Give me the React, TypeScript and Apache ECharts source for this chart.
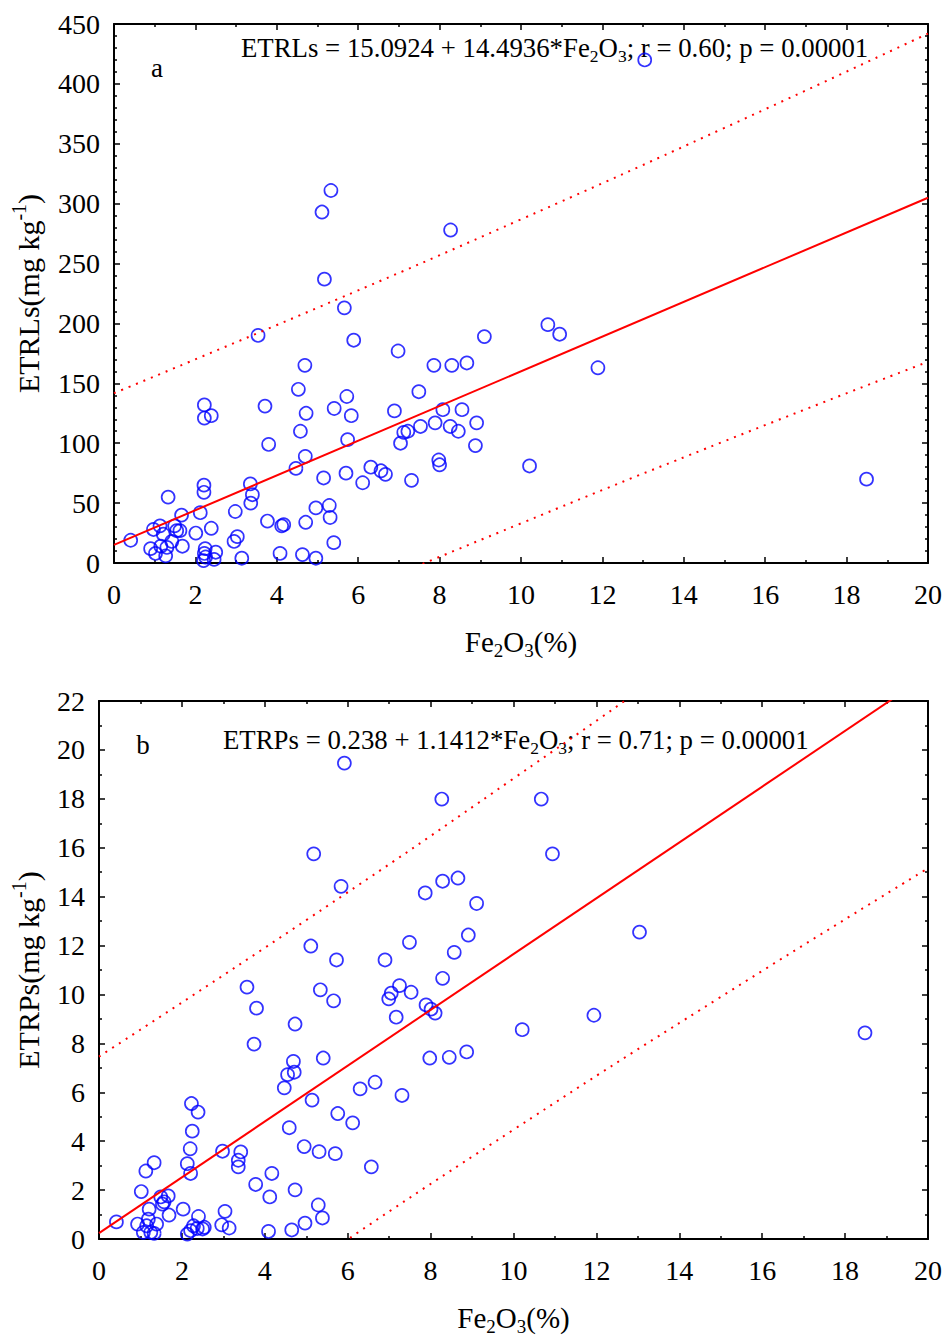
import React, { useEffect, useRef } from 'react';
import * as echarts from 'echarts';

const FONT = '"Liberation Serif", "Times New Roman", serif';

// Panel a: Fe2O3 (%) vs ETRLs (mg/kg)
const feA = [0.41, 1.33, 0.97, 1.13, 1.21, 0.90, 1.02, 1.15, 1.27, 1.30, 1.42, 1.49, 1.54, 1.62, 1.66, 1.68, 2.01, 2.12, 2.21, 2.21,
  2.22, 2.22, 2.39, 2.39, 2.24, 2.22, 2.25, 2.50, 2.46, 2.20, 2.95, 3.03, 2.98, 3.14, 3.35, 3.40, 3.36, 3.54, 3.77, 3.80,
  3.71, 4.08, 4.12, 4.17, 4.47, 4.58, 4.53, 4.69, 4.72, 4.70, 4.63, 4.71, 4.96, 4.96, 5.15, 5.29, 5.31, 5.40, 5.66, 5.89,
  5.72, 5.83, 5.74, 5.70, 5.41, 6.11, 6.31, 5.33, 5.11, 5.17, 8.27, 6.98, 7.86, 8.30, 8.67, 9.10, 10.66, 10.95, 7.49, 6.89,
  8.08, 8.55, 7.89, 7.53, 7.22, 7.12, 7.04, 8.26, 8.46, 8.91, 8.88, 7.98, 8.00, 6.56, 6.67, 7.31, 10.21, 11.89, 18.49, 13.04];
const etrlA = [19, 55, 28, 31, 24, 12, 8, 14, 6, 13, 18, 31, 27, 27, 40, 14, 25, 42, 65, 59,
  132, 121, 123, 29, 12, 8, 5, 9, 3, 2, 18, 22, 43, 4, 66, 57, 50, 190, 35, 99,
  131, 8, 31, 32, 79, 110, 145, 165, 125, 89, 7, 34, 4, 46, 71, 48, 38, 17, 213, 186,
  139, 123, 103, 75, 129, 67, 80, 311, 293, 237, 278, 177, 165, 165, 167, 189, 199, 191, 143, 127,
  128, 128, 117, 114, 110, 109, 100, 114, 110, 117, 98, 86, 82, 77, 74, 69, 81, 163, 70, 420];

// Panel b: Fe2O3 (%) vs ETRPs (mg/kg)
const feB = [0.42, 0.93, 1.02, 1.13, 1.33, 1.19, 1.07, 1.25, 1.15, 1.39, 1.21, 1.33, 1.49, 1.67, 1.57, 1.53, 1.69, 2.03, 2.13, 2.21,
  2.20, 2.25, 2.23, 2.39, 2.40, 2.13, 2.21, 2.28, 2.37, 2.50, 2.54, 2.96, 3.04, 3.14, 2.98, 3.36, 3.36, 3.42, 3.74, 3.80,
  3.78, 4.12, 4.17, 4.09, 4.65, 4.47, 4.55, 4.69, 4.71, 4.73, 4.59, 4.73, 4.97, 4.95, 5.14, 5.41, 5.31, 5.29, 5.39, 5.70,
  5.76, 6.12, 6.30, 5.66, 5.92, 8.27, 10.67, 5.18, 10.94, 5.84, 8.29, 8.66, 7.87, 9.11, 5.11, 5.73, 7.49, 6.90, 8.91, 8.57,
  8.29, 7.25, 7.05, 6.99, 7.53, 7.89, 8.01, 8.11, 7.17, 5.34, 3.57, 10.21, 7.98, 8.45, 8.87, 6.66, 7.31, 6.57, 11.94, 13.04, 18.48];
const etrpB = [0.70, 0.61, 1.94, 2.78, 3.12, 0.81, 0.27, 0.27, 0.54, 0.61, 1.22, 0.23, 1.72, 1.76, 1.52, 1.43, 0.98, 1.22, 3.08, 2.68,
  3.69, 4.41, 5.54, 5.19, 0.92, 0.20, 0.34, 0.54, 0.43, 0.41, 0.48, 0.58, 1.13, 0.45, 3.59, 3.22, 2.95, 3.56, 7.97, 9.44,
  2.23, 1.72, 2.68, 0.31, 0.37, 6.18, 6.72, 7.26, 6.82, 8.79, 4.55, 2.01, 0.65, 3.78, 5.68, 7.40, 3.57, 1.39, 0.86, 3.49,
  5.13, 4.75, 6.14, 9.74, 19.46, 17.99, 17.99, 15.75, 15.75, 14.42, 14.63, 14.76, 14.15, 13.72, 11.98, 11.41, 12.13, 11.41, 12.43, 11.72,
  10.66, 10.36, 10.05, 9.82, 10.09, 9.57, 9.40, 9.24, 9.07, 10.19, 10.30, 8.56, 7.40, 7.43, 7.65, 6.41, 5.87, 2.95, 9.15, 12.55, 8.43];

// Regression equations printed on the chart
const fitA = { intercept: 15.0924, slope: 14.4936 };
const fitB = { intercept: 0.238, slope: 1.1412 };
const fitX = [0, 20];

// Prediction bands (dotted lines)
const bandX = [0, 5, 10, 15, 20];
const upperA = [141.8, 213.1, 286.9, 363.3, 442.0];
const lowerA = [-111.6, -37.9, 33.1, 101.7, 168.0];
const upperB = [7.46, 13.04, 18.83, 24.81, 30.96];
const lowerB = [-6.98, -1.16, 4.47, 9.9, 15.16];

const zip = (xs: number[], ys: number[]) => xs.map((x, i) => [x, ys[i]]);

const richX = {
  a: { fontFamily: FONT, fontSize: 29, color: '#000', lineHeight: 36 },
  s: { fontFamily: FONT, fontSize: 19, color: '#000', lineHeight: 19, verticalAlign: 'bottom' },
};
const richY = {
  a: { fontFamily: FONT, fontSize: 30, color: '#000', lineHeight: 38 },
  p: { fontFamily: FONT, fontSize: 20, color: '#000', lineHeight: 20, verticalAlign: 'top' },
};
const richG = {
  a: { fontFamily: FONT, fontSize: 26.8, fill: '#000', lineHeight: 34 },
  s: { fontFamily: FONT, fontSize: 17.5, fill: '#000', lineHeight: 17, verticalAlign: 'bottom' },
};

function xAx(grid: number, pos: 'bottom' | 'top', name?: string) {
  return {
    gridIndex: grid, type: 'value', min: 0, max: 20, interval: 2, position: pos,
    axisLine: { show: true, onZero: false, lineStyle: { color: '#000', width: 2 } },
    axisTick: { show: true, inside: true, length: 6, lineStyle: { color: '#000', width: 1.5 } },
    minorTick: { show: true, splitNumber: 2, length: 3, lineStyle: { color: '#000', width: 1.5 } },
    splitLine: { show: false }, minorSplitLine: { show: false },
    axisLabel: { show: pos === 'bottom', margin: 17, fontSize: 28, fontFamily: FONT, color: '#000' },
    name: name, nameLocation: 'middle', nameGap: 61,
    nameTextStyle: { fontFamily: FONT, fontSize: 29, color: '#000', rich: richX },
  };
}
function yAx(grid: number, pos: 'left' | 'right', max: number, interval: number, minor: number, gap: number, name?: string) {
  return {
    gridIndex: grid, type: 'value', min: 0, max: max, interval: interval, position: pos,
    axisLine: { show: true, onZero: false, lineStyle: { color: '#000', width: 2 } },
    axisTick: { show: true, inside: true, length: 6, lineStyle: { color: '#000', width: 1.5 } },
    minorTick: { show: true, splitNumber: minor, length: 3, lineStyle: { color: '#000', width: 1.5 } },
    splitLine: { show: false }, minorSplitLine: { show: false },
    axisLabel: { show: pos === 'left', margin: 14, fontSize: 28, fontFamily: FONT, color: '#000' },
    name: name, nameLocation: 'middle', nameGap: gap, nameRotate: 90,
    nameTextStyle: { fontFamily: FONT, fontSize: 30, color: '#000', rich: richY },
  };
}

const scatterStyle = { color: 'rgba(0,0,0,0)', borderColor: '#0000ff', borderWidth: 1.7 };

export default function App() {
  const ref = useRef<HTMLDivElement>(null);
  useEffect(() => {
    if (!ref.current) return;
    const chart = echarts.init(ref.current, null, { renderer: 'svg' });
    const fitLine = (f: { intercept: number; slope: number }) => fitX.map((x) => [x, f.intercept + f.slope * x]);
    const dotted = { color: '#ff0000', width: 2, type: [2, 6] as any };
    const option: any = {
      animation: false,
      backgroundColor: '#fff',
      grid: [
        { left: 114, top: 24, width: 814, height: 539 },
        { left: 99, top: 701, width: 829, height: 540 },
      ],
      xAxis: [
        xAx(0, 'bottom', '{a|Fe}{s|2}{a|O}{s|3}{a|(%)}'),
        xAx(0, 'top'),
        xAx(1, 'bottom', '{a|Fe}{s|2}{a|O}{s|3}{a|(%)}'),
        xAx(1, 'top'),
      ],
      yAxis: [
        yAx(0, 'left', 450, 50, 5, 67, '{a|ETRLs(mg kg}{p|-1}{a|)}'),
        yAx(0, 'right', 450, 50, 5, 0),
        yAx(1, 'left', 22, 2, 2, 52, '{a|ETRPs(mg kg}{p|-1}{a|)}'),
        yAx(1, 'right', 22, 2, 2, 0),
      ],
      series: [
        { type: 'scatter', xAxisIndex: 0, yAxisIndex: 0, data: zip(feA, etrlA), symbol: 'circle', symbolSize: 13, itemStyle: scatterStyle, silent: true },
        { type: 'line', xAxisIndex: 0, yAxisIndex: 0, data: fitLine(fitA), showSymbol: false, symbol: 'none', lineStyle: { color: '#ff0000', width: 2 }, clip: true, silent: true },
        { type: 'line', xAxisIndex: 0, yAxisIndex: 0, data: zip(bandX, upperA), smooth: true, symbol: 'none', lineStyle: dotted, clip: true, silent: true },
        { type: 'line', xAxisIndex: 0, yAxisIndex: 0, data: zip(bandX, lowerA), smooth: true, symbol: 'none', lineStyle: dotted, clip: true, silent: true },
        { type: 'scatter', xAxisIndex: 2, yAxisIndex: 2, data: zip(feB, etrpB), symbol: 'circle', symbolSize: 13, itemStyle: scatterStyle, silent: true },
        { type: 'line', xAxisIndex: 2, yAxisIndex: 2, data: fitLine(fitB), showSymbol: false, symbol: 'none', lineStyle: { color: '#ff0000', width: 2 }, clip: true, silent: true },
        { type: 'line', xAxisIndex: 2, yAxisIndex: 2, data: zip(bandX, upperB), smooth: true, symbol: 'none', lineStyle: dotted, clip: true, silent: true },
        { type: 'line', xAxisIndex: 2, yAxisIndex: 2, data: zip(bandX, lowerB), smooth: true, symbol: 'none', lineStyle: dotted, clip: true, silent: true },
      ],
      graphic: [
        { type: 'text', x: 157, y: 68, style: { text: 'a', fontFamily: FONT, fontSize: 27, fill: '#000', align: 'center', verticalAlign: 'middle' } },
        { type: 'text', x: 143, y: 745, style: { text: 'b', fontFamily: FONT, fontSize: 27, fill: '#000', align: 'center', verticalAlign: 'middle' } },
        { type: 'text', x: 241, y: 48, style: { text: '{a|ETRLs = 15.0924 + 14.4936*Fe}{s|2}{a|O}{s|3}{a|; r = 0.60; p = 0.00001}', rich: richG, align: 'left', verticalAlign: 'middle' } },
        { type: 'text', x: 223, y: 740, style: { text: '{a|ETRPs = 0.238 + 1.1412*Fe}{s|2}{a|O}{s|3}{a|; r = 0.71; p = 0.00001}', rich: richG, align: 'left', verticalAlign: 'middle' } },
      ],
    };
    chart.setOption(option);
    return () => chart.dispose();
  }, []);
  return <div ref={ref} style={{ position: 'absolute', left: 0, top: 0, width: 946, height: 1337, background: '#fff' }} />;
}
